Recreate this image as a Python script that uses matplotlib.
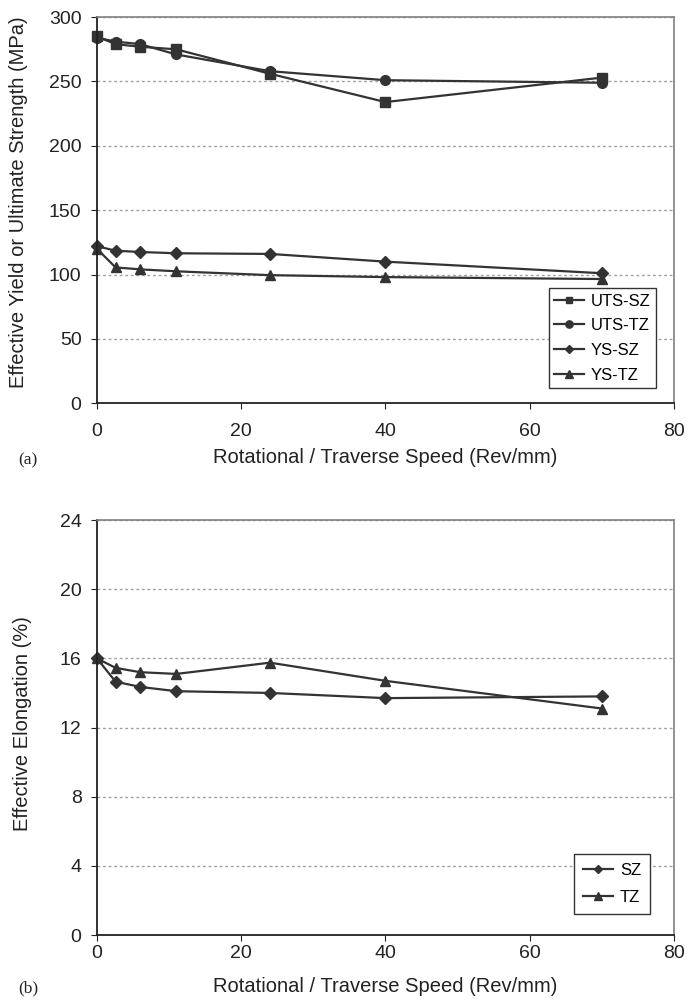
import matplotlib
matplotlib.use("Agg")
import matplotlib.pyplot as plt

plt.rcParams['font.family'] = ['Liberation Sans', 'DejaVu Sans']

# speeds (rev/mm)
speed = [0, 2.6, 6, 11, 24, 40, 70]

# strengths (MPa)
uts_sz = [285, 279, 277, 275, 256, 234, 253]
uts_tz = [284, 281, 279, 271, 258, 251, 249]
ys_sz = [122, 118.5, 117.5, 116.5, 116, 110, 101]
ys_tz = [120, 105.5, 104, 102.5, 99.5, 98, 96.5]

# elongation (%)
el_sz = [16.0, 14.65, 14.35, 14.1, 14.0, 13.7, 13.8]
el_tz = [16.0, 15.45, 15.2, 15.1, 15.75, 14.7, 13.1]

col = '#333333'
txt = '#222222'

fig = plt.figure(figsize=(6.87, 10.08), dpi=100)
ax1 = fig.add_axes([0.141, 0.600, 0.840, 0.383])
ax2 = fig.add_axes([0.141, 0.0724, 0.840, 0.4117])


def style(ax, ymax, ystep, xpad):
    ax.set_xlim(0, 80)
    ax.set_ylim(0, ymax)
    ax.set_xticks(range(0, 81, 20))
    ax.set_yticks(range(0, ymax + 1, ystep))
    ax.yaxis.grid(True, linestyle=(0, (2, 2)), color='#a0a0a0', linewidth=1)
    ax.set_axisbelow(True)
    for s in ['top', 'right']:
        ax.spines[s].set_color('#808080')
        ax.spines[s].set_linewidth(1.2)
    for s in ['left', 'bottom']:
        ax.spines[s].set_color('#222222')
        ax.spines[s].set_linewidth(1.3)
    ax.tick_params(axis='both', labelsize=14, direction='out', length=4, color='#222222', labelcolor=txt)
    ax.tick_params(axis='y', pad=7)
    ax.tick_params(axis='x', pad=xpad)


def legend(ax, anchor, pad, spacing):
    leg = ax.legend(loc='lower right', bbox_to_anchor=anchor, fontsize=12, markerscale=0.75,
                    fancybox=False, edgecolor='#333333', handlelength=1.8, borderpad=pad,
                    labelspacing=spacing, handletextpad=0.4, borderaxespad=0, framealpha=1)
    leg.get_frame().set_linewidth(1.0)
    return leg


kw = dict(color=col, linewidth=1.6, clip_on=False)
ax1.plot(speed, uts_sz, marker='s', markersize=6.5, label='UTS-SZ', **kw)
ax1.plot(speed, uts_tz, marker='o', markersize=7, label='UTS-TZ', **kw)
ax1.plot(speed, ys_sz, marker='D', markersize=6, label='YS-SZ', **kw)
ax1.plot(speed, ys_tz, marker='^', markersize=7.5, label='YS-TZ', **kw)
style(ax1, 300, 50, 10.5)
ax1.set_ylabel('Effective Yield or Ultimate Strength (MPa)', fontsize=14.5, color=txt)
ax1.yaxis.set_label_coords(-0.12, 0.52)
ax1.set_xlabel('Rotational / Traverse Speed (Rev/mm)', fontsize=14.5, color=txt)
ax1.xaxis.set_label_coords(0.50, -0.140)
ax1.xaxis.label.set_verticalalignment('center')
legend(ax1, (0.969, 0.039), 0.33, 0.58)

ax2.plot(speed, el_sz, marker='D', markersize=6, label='SZ', **kw)
ax2.plot(speed, el_tz, marker='^', markersize=7.5, label='TZ', **kw)
style(ax2, 24, 4, 3.5)
ax2.set_ylabel('Effective Elongation (%)', fontsize=14.5, color=txt)
ax2.yaxis.set_label_coords(-0.112, 0.51)
ax2.set_xlabel('Rotational / Traverse Speed (Rev/mm)', fontsize=14.5, color=txt)
ax2.xaxis.set_label_coords(0.50, -0.125)
ax2.xaxis.label.set_verticalalignment('center')
legend(ax2, (0.959, 0.05), 0.56, 0.72)

fig.text(18 / 687, 1 - 460 / 1008, '(a)', family='Liberation Serif', fontsize=12.5, color=txt, va='center')
fig.text(18 / 687, 1 - 988 / 1008, '(b)', family='Liberation Serif', fontsize=12.5, color=txt, va='center')

fig.savefig('out.png', dpi=100)
